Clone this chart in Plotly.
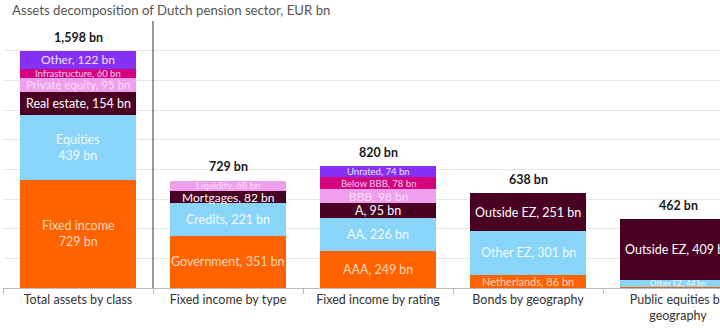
import plotly.graph_objects as go

categories = ["Total assets by class", "Fixed income by type", "Fixed income by rating",
              "Bonds by geography", "Public equities by<br>geography"]
totals = [1598, 729, 820, 638, 462]
total_labels = ["1,598 bn", "729 bn", "820 bn", "638 bn", "462 bn"]

# stacking levels (bottom to top); None = no segment
level_values = [
    [729, 351, 249, 86, 9],
    [439, 221, 226, 301, 44],
    [154, 82, 95, 251, 409],
    [95, 68, 98, None, None],
    [60, None, 78, None, None],
    [122, None, 74, None, None],
]
level_names = [
    ["Fixed income<br>729 bn", "Government, 351 bn", "AAA, 249 bn", "Netherlands, 86 bn", ""],
    ["Equities<br>439 bn", "Credits, 221 bn", "AA, 226 bn", "Other EZ, 301 bn", "Other EZ, 44 bn"],
    ["Real estate, 154 bn", "Mortgages, 82 bn", "A, 95 bn", "Outside EZ, 251 bn", "Outside EZ, 409 bn"],
    ["Private equity, 95 bn", "Liquidity, 68 bn", "BBB, 98 bn", "", ""],
    ["Infrastructure, 60 bn", "", "Below BBB, 78 bn", "", ""],
    ["Other, 122 bn", "", "Unrated, 74 bn", "", ""],
]
level_font_sizes = [
    [12.5, 12.5, 12.5, 11, 8],
    [12.5, 12.5, 12.5, 12.5, 8],
    [12.5, 12, 12.5, 12.5, 12.5],
    [11.5, 9.5, 12, 10, 10],
    [9.5, 10, 9.5, 10, 10],
    [12, 10, 9.5, 10, 10],
]
level_colors = ["#FF6200", "#89D4F9", "#4A0022", "#EFA0EC", "#D4007F", "#8530F2"]
level_text_colors = ["#FFD9B8", "#F2FAFF", "#FFFFFF", "#FCDDF9", "#FFD2EE", "#EEE2FF"]

FONT = "Lato"

fig = go.Figure()
for i, vals in enumerate(level_values):
    fig.add_trace(go.Bar(
        x=categories, y=[v if v is not None else 0 for v in vals],
        marker=dict(color=level_colors[i], line=dict(width=0)),
        width=0.767, showlegend=False, hoverinfo="skip",
    ))

annotations = []
# segment labels
cum = [0.0] * len(categories)
for i, vals in enumerate(level_values):
    for j, v in enumerate(vals):
        if v is None:
            continue
        label = level_names[i][j]
        if label:
            annotations.append(dict(
                x=categories[j], y=cum[j] + v / 2, xref="x", yref="y",
                text=label, showarrow=False,
                font=dict(family=FONT, size=level_font_sizes[i][j], color=level_text_colors[i]),
                xanchor="center", yanchor="middle",
            ))
        cum[j] += v

# totals
for j, t in enumerate(totals):
    annotations.append(dict(
        x=categories[j], y=t, xref="x", yref="y", text="<b>" + total_labels[j] + "</b>",
        showarrow=False, yanchor="bottom", yshift=4,
        font=dict(family=FONT, size=12.5, color="#1a1a1a"),
    ))

fig.update_layout(
    width=720, height=328,
    margin=dict(l=3, r=0, t=21, b=40, autoexpand=False),
    barmode="stack", bargap=0.233,
    plot_bgcolor="white", paper_bgcolor="white",
    annotations=annotations,
    font=dict(family=FONT, size=12.5, color="#333333"),
    title=dict(text="Assets decomposition of Dutch pension sector, EUR bn",
               xref="container", yref="container", x=12 / 720, y=1 - 10 / 328,
               xanchor="left", yanchor="middle",
               font=dict(family=FONT, size=13.2, color="#555555")),
    shapes=[dict(type="line", xref="x", yref="y", x0=0.5, x1=0.5, y0=-52, y1=1800,
                 line=dict(color="#555555", width=1.2))],
)
fig.update_xaxes(
    range=[-0.5, -0.5 + 717 / 150], showline=True, linecolor="#BBBBBB", linewidth=1,
    ticks="outside", tickson="boundaries", ticklen=5, tickcolor="#BBBBBB",
    tickfont=dict(family=FONT, size=12.5, color="#333333"), showgrid=False,
    fixedrange=True,
)
fig.update_yaxes(
    range=[0, 1800.5], dtick=200, showgrid=True, gridcolor="#E8E8E8", gridwidth=1,
    showticklabels=False, zeroline=False, showline=False,
)
fig.write_html("out.html")
